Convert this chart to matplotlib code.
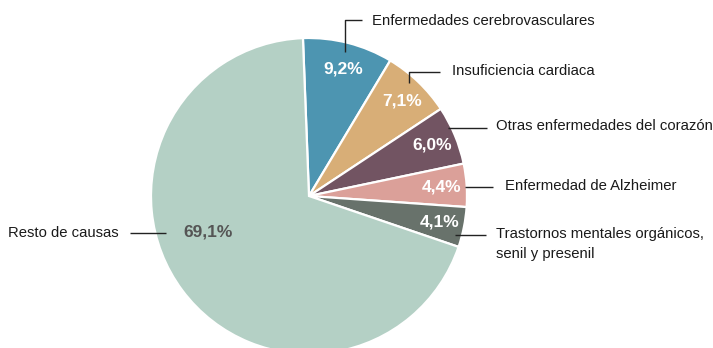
import numpy as np
import matplotlib
matplotlib.use("Agg")
import matplotlib.pyplot as plt

plt.rcParams['font.family'] = ['Liberation Sans', 'DejaVu Sans']

# causes of death, share in percent (clockwise from the top)
causes = [
    "Enfermedades cerebrovasculares",
    "Insuficiencia cardiaca",
    "Otras enfermedades del corazón",
    "Enfermedad de Alzheimer",
    "Trastornos mentales orgánicos,\nsenil y presenil",
    "Resto de causas",
]
shares = [9.2, 7.1, 6.0, 4.4, 4.1, 69.1]
colors = ["#4d95b1", "#d8ae77", "#725462", "#dba099", "#68726b", "#b4d0c5"]

W, H = 713, 348
fig = plt.figure(figsize=(W / 100, H / 100), dpi=100)
ax = fig.add_axes([0, 0, 1, 1])


def px(x, y):
    # pixel position (origin top-left) -> data coords
    return x, H - y


wedges, _ = ax.pie(shares, colors=colors, startangle=92.2, counterclock=False,
                   center=px(309, 196), radius=158, normalize=True,
                   wedgeprops=dict(edgecolor="white", linewidth=1.6))

cx, cy = px(309, 196)
for i, w in enumerate(wedges):
    txt = f"{shares[i]:.1f}%".replace(".", ",")
    if i == len(wedges) - 1:
        x, y = px(208, 232)
        ax.text(x, y, txt, ha="center", va="center", fontsize=12.5,
                fontweight="bold", color="#555555")
        continue
    mid = np.deg2rad((w.theta1 + w.theta2) / 2)
    r = 0.83 * w.r
    ax.text(cx + r * np.cos(mid) + 2, cy + r * np.sin(mid), txt, ha="center",
            va="center", fontsize=12.5, fontweight="bold", color="white")

# leader lines
lc = dict(color="#222222", lw=1.0, solid_capstyle="butt")
leaders = [
    [(345, 52), (345, 20), (362, 20)],
    [(409, 83), (409, 72), (440, 72)],
    [(448, 128), (487, 128)],
    [(465, 187), (493, 187)],
    [(455, 235), (486, 235)],
    [(130, 233), (166, 233)],
]
for pts in leaders:
    xs, ys = zip(*[px(*p) for p in pts])
    ax.plot(xs, ys, **lc)

# category labels
label_pos = [
    (372, 21, "left"),
    (452, 71, "left"),
    (496, 126, "left"),
    (505, 186, "left"),
    (496, 244, "left"),
    (119, 233, "right"),
]
for name, (x, y, ha) in zip(causes, label_pos):
    tx, ty = px(x, y)
    ax.text(tx, ty, name, ha=ha, va="center", fontsize=10.7,
            color="#1a1a1a", linespacing=1.5)

ax.set_xlim(0, W)
ax.set_ylim(0, H)
ax.set_aspect("equal")
ax.axis("off")

fig.savefig("out.png", dpi=100, facecolor="white")
